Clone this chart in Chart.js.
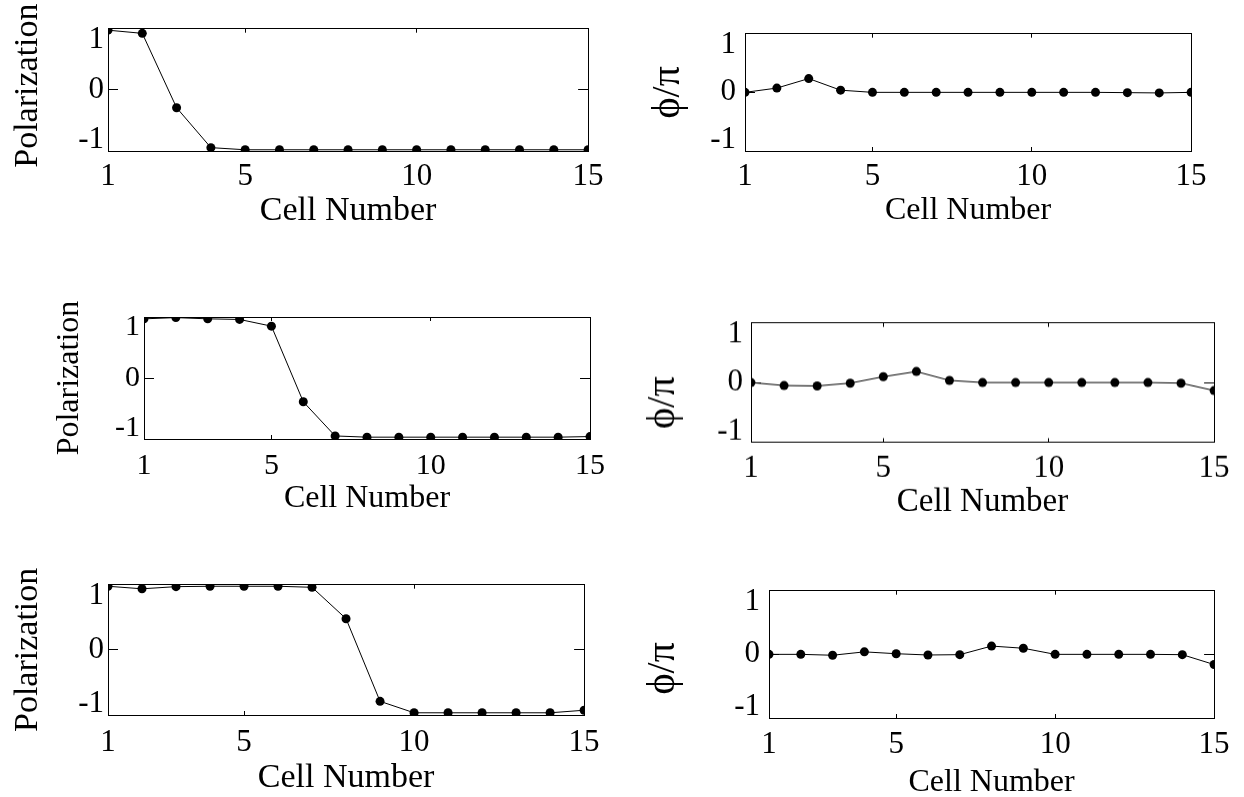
<!DOCTYPE html>
<html>
<head>
<meta charset="utf-8">
<title>Polarization and phase along the cell line</title>
<script src="https://cdn.jsdelivr.net/npm/chart.js@4.4.0/dist/chart.umd.min.js"></script>
<style>
  html, body { margin: 0; padding: 0; background: #fff; }
  body { width: 1244px; height: 797px; position: relative; overflow: hidden; }
  canvas { position: absolute; }
</style>
</head>
<body>
<script>
// values, one array per panel
const cells = [1, 2, 3, 4, 5, 6, 7, 8, 9, 10, 11, 12, 13, 14, 15];
const xTicks = [1, 5, 10, 15];
const yTicks = [-1, 0, 1];
const yTickLabels = ['-1', '0', '1'];

const polarizationTop = [0.976, 0.924, -0.292, -0.945, -0.98, -0.98, -0.98, -0.98, -0.98, -0.98, -0.98, -0.98, -0.98, -0.98, -0.98];
const phaseTop = [0, 0.073, 0.235, 0.037, 0, 0, 0, 0, 0, 0, 0, 0, -0.005, -0.01, 0];
const polarizationMid = [0.97, 0.99, 0.97, 0.96, 0.85, -0.39, -0.95, -0.97, -0.97, -0.97, -0.97, -0.97, -0.97, -0.97, -0.96];
const phaseMid = [0, -0.05, -0.057, -0.01, 0.098, 0.185, 0.036, 0, 0, 0, 0, 0, 0, -0.01, -0.134];
const polarizationBottom = [0.976, 0.937, 0.97, 0.976, 0.976, 0.976, 0.96, 0.478, -0.79, -0.966, -0.966, -0.966, -0.966, -0.966, -0.927];
const phaseBottom = [0, 0, -0.014, 0.039, 0.01, -0.01, -0.005, 0.13, 0.096, 0, 0, 0, 0, -0.005, -0.16];

const polLabel = 'Polarization';
const phaseLabel = 'ϕ/π';
const xLabel = 'Cell Number';

const SERIF = '"Liberation Serif", "Times New Roman", serif';

// plot boxes (left, top, right, bottom) and text placement for each panel
const panels = [
  { values: polarizationTop, yText: ' ' + polLabel, L: 108, T: 23, R: 595, B: 151, cx: 0, ySize: 34, yPad: 11, xSize: 34, xDist: 60, tickDist: 26, gap: 4, tickSize: 31 },
  { values: phaseTop, yText: phaseLabel, L: 745, T: 23, R: 1198, B: 151, cx: 630, ySize: 40, yPad: 18, xSize: 32, xDist: 60, tickDist: 26, gap: 9, tickSize: 31 },
  { values: polarizationMid, yText: polLabel, L: 144, T: 312, R: 598, B: 439, cx: 0, ySize: 32, yPad: 54, xSize: 32, xDist: 60, tickDist: 27, gap: 4, tickSize: 30 },
  { values: phaseMid, yText: phaseLabel + '\u2003', L: 751, T: 313, R: 1221, B: 442, cx: 630, ySize: 40, yPad: 13, xSize: 33, xDist: 60, tickDist: 26, gap: 8, tickSize: 31 },
  { values: polarizationBottom, yText: polLabel, L: 108, T: 579, R: 593, B: 715, cx: 0, ySize: 34, yPad: 11, xSize: 34, xDist: 63, tickDist: 28, gap: 4, tickSize: 31 },
  { values: phaseBottom, yText: phaseLabel + '\u2002\u2009', L: 769, T: 580, R: 1222, B: 718, cx: 630, ySize: 40, yPad: 13, xSize: 32, xDist: 65, tickDist: 27, gap: 9, tickSize: 31 },
];

const setX = s => { s.ticks = xTicks.map(v => ({ value: v })); };
const setY = s => { s.ticks = yTicks.map(v => ({ value: v })); };

function makePanel(p) {
  const H = p.xDist + p.xSize / 2;   // height of the x axis box
  const top = p.T - 30;
  const w = p.R + 20 - p.cx;
  const h = p.B - top + H;

  const canvas = document.createElement('canvas');
  canvas.width = w;
  canvas.height = h;
  canvas.style.left = p.cx + 'px';
  canvas.style.top = top + 'px';
  canvas.style.width = w + 'px';
  canvas.style.height = h + 'px';
  document.body.appendChild(canvas);

  const border = { color: '#000', width: 1 };

  new Chart(canvas, {
    type: 'line',
    data: {
      datasets: [{
        data: cells.map((c, i) => ({ x: c, y: p.values[i] })),
        borderColor: '#000',
        borderWidth: 1,
        pointRadius: 4.5,
        pointHoverRadius: 4.5,
        pointBackgroundColor: '#000',
        pointBorderWidth: 0,
        tension: 0,
        clip: 0,
      }],
    },
    options: {
      responsive: false,
      animation: false,
      events: [],
      layout: { padding: { left: 0, top: 30, right: 20, bottom: 0 } },
      plugins: { legend: { display: false }, tooltip: { enabled: false } },
      scales: {
        x: {
          type: 'linear', position: 'bottom', min: 1, max: 15,
          afterBuildTicks: setX,
          afterFit: s => { s.height = H; },
          grid: { drawOnChartArea: false, tickLength: -4, tickColor: '#000', color: '#000' },
          border: border,
          ticks: {
            color: '#000', autoSkip: false, maxRotation: 0,
            font: { family: SERIF, size: p.tickSize, lineHeight: 1.2 },
            padding: p.tickDist + 4 - p.tickSize * 0.6,
          },
          title: {
            display: true, text: xLabel, color: '#000', padding: 0,
            font: { family: SERIF, size: p.xSize, lineHeight: 1 },
          },
        },
        y: {
          type: 'linear', position: 'left', min: -1, max: 1,
          afterBuildTicks: setY,
          afterFit: s => { s.width = p.L - p.cx; },
          grid: { drawOnChartArea: false, tickLength: -10, tickColor: '#000', color: '#000' },
          border: border,
          ticks: {
            color: '#000',
            font: { family: SERIF, size: p.tickSize, lineHeight: 0.7 },
            padding: p.gap + 10,
            callback: v => {
              const t = yTickLabels[yTicks.indexOf(v)];
              if (v > 0) return ['', t];
              if (v < 0) return [t, ''];
              return t;
            },
          },
          title: {
            display: true, text: p.yText, color: '#000',
            padding: { top: p.yPad, bottom: 0 },
            font: { family: SERIF, size: p.ySize, lineHeight: 1 },
          },
        },
        x2: {
          type: 'linear', position: 'top', min: 1, max: 15,
          afterBuildTicks: setX,
          afterFit: s => { s.height = 0; },
          grid: { drawOnChartArea: false, tickLength: -4, tickColor: '#000', color: '#000' },
          border: border,
          ticks: { display: false },
        },
        y2: {
          type: 'linear', position: 'right', min: -1, max: 1,
          afterBuildTicks: setY,
          afterFit: s => { s.width = 0; },
          grid: { drawOnChartArea: false, tickLength: -10, tickColor: '#000', color: '#000' },
          border: border,
          ticks: { display: false },
        },
      },
    },
  });
}

panels.forEach(makePanel);
</script>
</body>
</html>
